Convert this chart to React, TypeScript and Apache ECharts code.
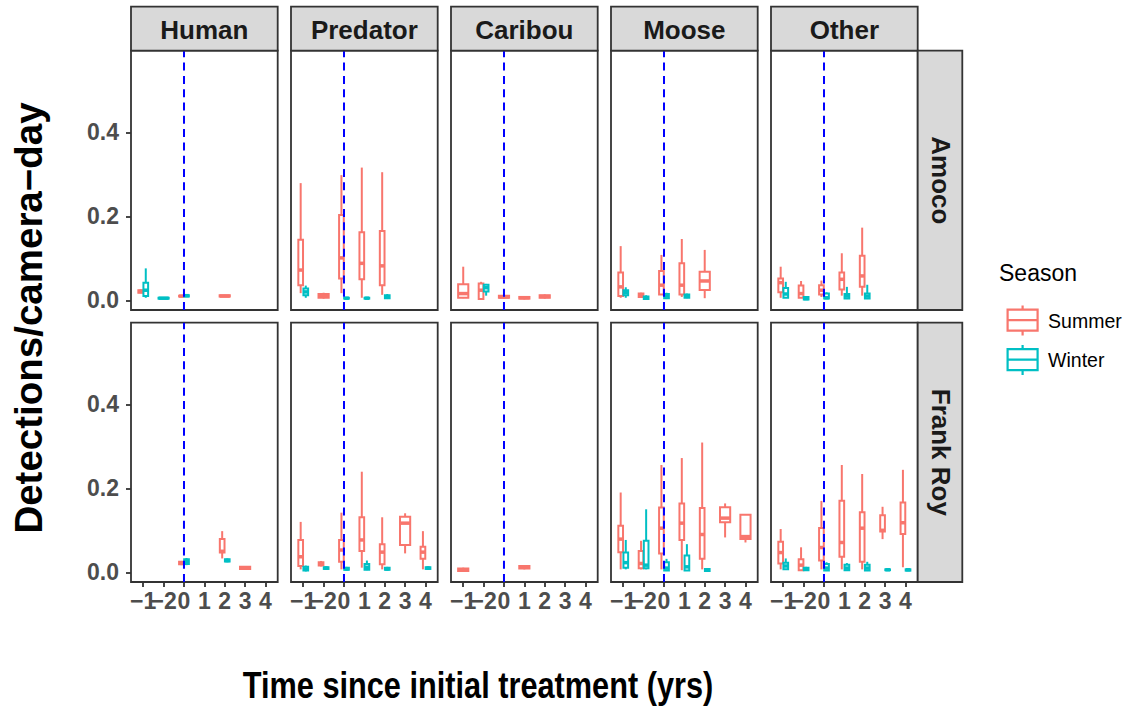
import React, { useEffect, useRef } from "react";
import * as echarts from "echarts";

// ---------- data ----------
const xLabels = ["−1", "−2", "0", "1", "2", "3", "4"];
const speciesNames = ["Human", "Predator", "Caribou", "Moose", "Other"];
const siteNames = ["Amoco", "Frank Roy"];
const seasonNames = ["Summer", "Winter"];
const yTickValues = [0, 0.2, 0.4];
const vlineAt = 2; // position of the "0" category

type Box = [number, number, number, number, number] | null; // min, q1, median, q3, max

// Amoco
const humanAmocoSummer: Box[] = [[0.017, 0.018, 0.021, 0.024, 0.026], null, [0.008, 0.009, 0.01, 0.011, 0.012], null, [0.008, 0.009, 0.01, 0.012, 0.013], null, null];
const humanAmocoWinter: Box[] = [[0.006, 0.01, 0.024, 0.042, 0.076], [0.003, 0.004, 0.005, 0.006, 0.007], [0.008, 0.009, 0.011, 0.012, 0.013], null, null, null, null];
const predatorAmocoSummer: Box[] = [[0.017, 0.036, 0.072, 0.144, 0.279], [0.004, 0.006, 0.01, 0.015, 0.018], [0.017, 0.052, 0.101, 0.203, 0.298], [0.006, 0.05, 0.088, 0.162, 0.316], [0.013, 0.036, 0.082, 0.165, 0.305], null, null];
const predatorAmocoWinter: Box[] = [[0.006, 0.012, 0.02, 0.028, 0.035], null, [0.003, 0.004, 0.005, 0.006, 0.008], [0.003, 0.004, 0.005, 0.006, 0.008], [0.003, 0.005, 0.008, 0.012, 0.015], null, null];
const caribouAmocoSummer: Box[] = [[0.005, 0.006, 0.016, 0.038, 0.08], [0.003, 0.003, 0.024, 0.04, 0.044], [0.004, 0.006, 0.008, 0.011, 0.012], [0.002, 0.004, 0.006, 0.008, 0.009], [0.004, 0.006, 0.009, 0.012, 0.014], null, null];
const caribouAmocoWinter: Box[] = [null, [0.011, 0.021, 0.03, 0.037, 0.039], null, null, null, null, null];
const mooseAmocoSummer: Box[] = [[0.006, 0.01, 0.032, 0.066, 0.129], [0.006, 0.008, 0.012, 0.016, 0.018], [0.014, 0.014, 0.036, 0.07, 0.108], [0.008, 0.014, 0.036, 0.088, 0.146], [0.005, 0.0245, 0.046, 0.068, 0.12], null, null];
const mooseAmocoWinter: Box[] = [[0.006, 0.012, 0.018, 0.024, 0.031], [0.001, 0.003, 0.006, 0.009, 0.012], [0.003, 0.005, 0.01, 0.015, 0.018], [0.005, 0.006, 0.01, 0.014, 0.016], null, null, null];
const otherAmocoSummer: Box[] = [[0.006, 0.019, 0.042, 0.052, 0.08], [0.006, 0.006, 0.016, 0.035, 0.046], [0.008, 0.014, 0.024, 0.036, 0.047], [0.011, 0.026, 0.05, 0.066, 0.112], [0.011, 0.032, 0.058, 0.106, 0.173], null, null];
const otherAmocoWinter: Box[] = [[0.006, 0.006, 0.015, 0.029, 0.044], [0.001, 0.002, 0.004, 0.008, 0.01], [0.003, 0.004, 0.006, 0.016, 0.019], [0.003, 0.004, 0.01, 0.015, 0.032], [0.003, 0.004, 0.01, 0.016, 0.037], null, null];

// Frank Roy
const humanFrankSummer: Box[] = [null, null, [0.017, 0.019, 0.022, 0.025, 0.027], null, [0.033, 0.047, 0.05, 0.079, 0.098], [0.006, 0.008, 0.01, 0.013, 0.015], null];
const humanFrankWinter: Box[] = [null, null, [0.017, 0.02, 0.026, 0.031, 0.034], null, [0.024, 0.026, 0.028, 0.031, 0.033], null, null];
const predatorFrankSummer: Box[] = [[0.007, 0.015, 0.037, 0.077, 0.12], [0.014, 0.016, 0.02, 0.024, 0.027], [0.007, 0.025, 0.053, 0.077, 0.142], [0.011, 0.051, 0.077, 0.131, 0.2395], [0.007, 0.019, 0.048, 0.067, 0.131], [0.045, 0.065, 0.117, 0.132, 0.1405], [0.007, 0.032, 0.048, 0.061, 0.098]];
const predatorFrankWinter: Box[] = [[0.002, 0.004, 0.008, 0.013, 0.016], [0.007, 0.008, 0.01, 0.012, 0.014], [0.004, 0.006, 0.008, 0.011, 0.013], [0.005, 0.006, 0.012, 0.02, 0.028], [0.004, 0.006, 0.008, 0.011, 0.013], null, [0.006, 0.008, 0.01, 0.012, 0.014]];
const caribouFrankSummer: Box[] = [[0.001, 0.003, 0.006, 0.009, 0.011], null, null, [0.007, 0.009, 0.012, 0.015, 0.017], null, null, null];
const caribouFrankWinter: Box[] = [null, null, null, null, null, null, null];
const mooseFrankSummer: Box[] = [[0.007, 0.048, 0.079, 0.111, 0.19], [0.007, 0.0095, 0.021, 0.051, 0.075], [0.007, 0.045, 0.105, 0.154, 0.2555], [0.005, 0.077, 0.117, 0.164, 0.272], [0.007, 0.032, 0.09, 0.153, 0.309], [0.083, 0.119, 0.129, 0.155, 0.164], [0.071, 0.079, 0.085, 0.137, 0.137]];
const mooseFrankWinter: Box[] = [[0.007, 0.011, 0.023, 0.047, 0.077], [0.007, 0.0095, 0.017, 0.075, 0.15], [0.003, 0.004, 0.01, 0.024, 0.032], [0.004, 0.004, 0.013, 0.04, 0.067], [0.002, 0.003, 0.005, 0.008, 0.009], null, null];
const otherFrankSummer: Box[] = [[0.007, 0.021, 0.047, 0.073, 0.103], [0.005, 0.005, 0.017, 0.031, 0.0595], [0.007, 0.028, 0.059, 0.1055, 0.17], [0.007, 0.037, 0.071, 0.1705, 0.2555], [0.007, 0.025, 0.105, 0.143, 0.234], [0.079, 0.097, 0.1, 0.136, 0.156], [0.012, 0.091, 0.118, 0.166, 0.244]];
const otherFrankWinter: Box[] = [[0.007, 0.007, 0.015, 0.023, 0.033], [0.004, 0.005, 0.008, 0.011, 0.013], [0.003, 0.004, 0.01, 0.02, 0.024], [0.004, 0.005, 0.01, 0.018, 0.022], [0.003, 0.004, 0.01, 0.018, 0.025], [0.004, 0.005, 0.006, 0.007, 0.008], [0.003, 0.004, 0.006, 0.007, 0.008]];

const facets: Box[][][][] = [
  [
    [humanAmocoSummer, humanAmocoWinter],
    [predatorAmocoSummer, predatorAmocoWinter],
    [caribouAmocoSummer, caribouAmocoWinter],
    [mooseAmocoSummer, mooseAmocoWinter],
    [otherAmocoSummer, otherAmocoWinter],
  ],
  [
    [humanFrankSummer, humanFrankWinter],
    [predatorFrankSummer, predatorFrankWinter],
    [caribouFrankSummer, caribouFrankWinter],
    [mooseFrankSummer, mooseFrankWinter],
    [otherFrankSummer, otherFrankWinter],
  ],
];

// ---------- style / layout ----------
const COLORS = ["#F8766D", "#00BFC4"];
const FONT = '"Liberation Sans", Arial, Helvetica, sans-serif';
const COL_LEFT = [131, 291, 451, 611, 771];
const PANEL_W = 146.7;
const ROW_TOP = [50.7, 322.7];
const PANEL_H = 259.3;
const STRIP_TOP = 6.7;
const STRIP_H = 44;
const STRIP_RIGHT_X = 917.7;
const STRIP_RIGHT_W = 44.6;
const X_MIN = -0.6;
const X_MAX = 6.6;
const Y_MIN = -0.0231;
const Y_MAX = 0.5943;
const FULL_W = 0.5;
const DODGE_W = 0.23;
const DODGE_OFF = 0.125;
const LW = 2;

// label order chosen so that the first two / last two labels in the list do not overlap
// (ECharts drops an overlapping min/max label otherwise)
const xLabelOrder = [2, 0, 1, 3, 4, 5, 6];

const boxIcon =
  "path://M15.5,0L15.5,4M0.5,4L30.5,4L30.5,25L0.5,25ZM0.5,14.5L30.5,14.5M15.5,25L15.5,30";

function makeRender(color: string) {
  return (params: any, api: any) => {
    const x = api.value(0);
    const off = api.value(6);
    const bw = api.value(7);
    const cx = api.coord([x + off, 0])[0];
    const yMin = api.coord([x, api.value(1)])[1];
    const yQ1 = api.coord([x, api.value(2)])[1];
    const yMed = api.coord([x, api.value(3)])[1];
    const yQ3 = api.coord([x, api.value(4)])[1];
    const yMax = api.coord([x, api.value(5)])[1];
    const half = api.size([bw, 0])[0] / 2;
    const ls = { stroke: color, lineWidth: LW };
    return {
      type: "group",
      children: [
        { type: "line", shape: { x1: cx, y1: yMax, x2: cx, y2: yQ3 }, style: ls },
        { type: "line", shape: { x1: cx, y1: yQ1, x2: cx, y2: yMin }, style: ls },
        {
          type: "rect",
          shape: { x: cx - half, y: yQ3, width: half * 2, height: Math.max(yQ1 - yQ3, 0.01) },
          style: { fill: "#ffffff", stroke: color, lineWidth: LW },
        },
        { type: "line", shape: { x1: cx - half, y1: yMed, x2: cx + half, y2: yMed }, style: { stroke: color, lineWidth: 3.5 } },
      ],
    };
  };
}

function buildOption() {
  const grid: any[] = [];
  const xAxis: any[] = [];
  const yAxis: any[] = [];
  const series: any[] = [];
  const graphic: any[] = [];
  let gi = 0;
  for (let r = 0; r < 2; r++) {
    for (let c = 0; c < 5; c++) {
      grid.push({
        left: COL_LEFT[c],
        top: ROW_TOP[r],
        width: PANEL_W,
        height: PANEL_H,
        show: true,
        borderColor: "#333333",
        borderWidth: 1.8,
        backgroundColor: "#ffffff",
        containLabel: false,
      });
      const bottom = r === 1;
      const left = c === 0;
      xAxis.push({
        type: "value",
        gridIndex: gi,
        position: "bottom",
        min: X_MIN,
        max: X_MAX,
        axisLine: { show: false, onZero: false },
        splitLine: { show: false },
        axisTick: {
          show: bottom,
          customValues: xLabels.map((_, i) => i),
          length: 5,
          inside: false,
          lineStyle: { color: "#333333", width: 1.8 },
        },
        axisLabel: {
          show: bottom,
          customValues: xLabelOrder,
          formatter: (v: number) => xLabels[Math.round(v)] ?? "",
          fontSize: 23,
          fontWeight: "bold",
          color: "#4D4D4D",
          fontFamily: FONT,
          margin: 7,
          hideOverlap: false,
        },
      });
      yAxis.push({
        type: "value",
        gridIndex: gi,
        position: "left",
        min: Y_MIN,
        max: Y_MAX,
        axisLine: { show: false, onZero: false },
        splitLine: { show: false },
        axisTick: {
          show: left,
          customValues: yTickValues,
          length: 5,
          inside: false,
          lineStyle: { color: "#333333", width: 1.8 },
        },
        axisLabel: {
          show: left,
          customValues: yTickValues,
          formatter: (v: number) => v.toFixed(1),
          fontSize: 23,
          fontWeight: "bold",
          color: "#4D4D4D",
          fontFamily: FONT,
          margin: 12,
          hideOverlap: false,
        },
      });
      const pair = facets[r][c];
      for (let s = 0; s < 2; s++) {
        const own = pair[s];
        const other = pair[1 - s];
        const data: any[] = [];
        own.forEach((b, i) => {
          if (!b) return;
          const dodge = !!other[i];
          const off = dodge ? (s === 0 ? -DODGE_OFF : DODGE_OFF) : 0;
          const w = dodge ? DODGE_W : FULL_W;
          data.push([i, b[0], b[1], b[2], b[3], b[4], off, w]);
        });
        series.push({
          type: "custom",
          name: seasonNames[s],
          xAxisIndex: gi,
          yAxisIndex: gi,
          renderItem: makeRender(COLORS[s]),
          itemStyle: { color: COLORS[s] },
          encode: { x: 0, y: [1, 2, 3, 4, 5] },
          data,
          z: 2,
          silent: true,
        });
      }
      series.push({
        type: "line",
        name: "treatment",
        xAxisIndex: gi,
        yAxisIndex: gi,
        data: [
          [vlineAt, Y_MIN],
          [vlineAt, Y_MAX],
        ],
        symbol: "none",
        showSymbol: false,
        lineStyle: { color: "#0000FF", width: 2, type: [8, 5.3] },
        silent: true,
        z: 3,
      });
      gi++;
    }
  }

  // top strips
  for (let c = 0; c < 5; c++) {
    graphic.push({
      type: "rect",
      shape: { x: COL_LEFT[c], y: STRIP_TOP, width: PANEL_W, height: STRIP_H },
      style: { fill: "#D9D9D9", stroke: "#333333", lineWidth: 1.8 },
      z: 10,
    });
    graphic.push({
      type: "text",
      x: COL_LEFT[c] + PANEL_W / 2,
      y: STRIP_TOP + STRIP_H / 2 + 1,
      style: {
        text: speciesNames[c],
        fontSize: 26,
        fontWeight: "bold",
        fontFamily: FONT,
        fill: "#1A1A1A",
        align: "center",
        verticalAlign: "middle",
      },
      z: 11,
    });
  }
  // right strips
  for (let r = 0; r < 2; r++) {
    graphic.push({
      type: "rect",
      shape: { x: STRIP_RIGHT_X, y: ROW_TOP[r], width: STRIP_RIGHT_W, height: PANEL_H },
      style: { fill: "#D9D9D9", stroke: "#333333", lineWidth: 1.8 },
      z: 10,
    });
    graphic.push({
      type: "text",
      x: STRIP_RIGHT_X + STRIP_RIGHT_W / 2 + 1,
      y: ROW_TOP[r] + PANEL_H / 2,
      rotation: -Math.PI / 2,
      style: {
        text: siteNames[r],
        fontSize: 26,
        fontWeight: "bold",
        fontFamily: FONT,
        fill: "#1A1A1A",
        align: "center",
        verticalAlign: "middle",
      },
      z: 11,
    });
  }
  // axis titles
  graphic.push({
    type: "text",
    x: 28.5,
    y: 318,
    rotation: Math.PI / 2,
    style: {
      text: "Detections/camera−day",
      fontSize: 38.5,
      fontWeight: "bold",
      fontFamily: FONT,
      fill: "#000000",
      align: "center",
      verticalAlign: "middle",
    },
  });
  graphic.push({
    type: "text",
    x: 478,
    y: 684.5,
    scaleX: 0.83,
    style: {
      text: "Time since initial treatment (yrs)",
      fontSize: 37,
      fontWeight: "bold",
      fontFamily: FONT,
      fill: "#000000",
      align: "center",
      verticalAlign: "middle",
    },
  });
  // legend title
  graphic.push({
    type: "text",
    x: 999,
    y: 273,
    style: {
      text: "Season",
      fontSize: 23,
      fontFamily: FONT,
      fill: "#000000",
      align: "left",
      verticalAlign: "middle",
    },
  });

  return {
    animation: false,
    backgroundColor: "#ffffff",
    grid,
    xAxis,
    yAxis,
    series,
    graphic,
    legend: {
      data: seasonNames.map((n, i) => ({
        name: n,
        icon: boxIcon,
        itemStyle: { color: "#ffffff", borderColor: COLORS[i], borderWidth: 2.2 },
      })),
      orient: "vertical",
      left: 1001.5,
      top: 299.5,
      itemWidth: 31,
      itemHeight: 30,
      itemGap: 7.3,
      selectedMode: false,
      textStyle: { fontSize: 19.5, color: "#000000", fontFamily: FONT, padding: [0, 0, 0, 5] },
    },
  };
}

export default function App() {
  const ref = useRef<HTMLDivElement>(null);
  useEffect(() => {
    if (!ref.current) return;
    const chart = echarts.init(ref.current, undefined, { renderer: "svg" });
    chart.setOption(buildOption() as any);
    return () => chart.dispose();
  }, []);
  return (
    <div
      ref={ref}
      style={{ position: "fixed", left: 0, top: 0, width: 1127, height: 706, background: "#fff" }}
    />
  );
}
